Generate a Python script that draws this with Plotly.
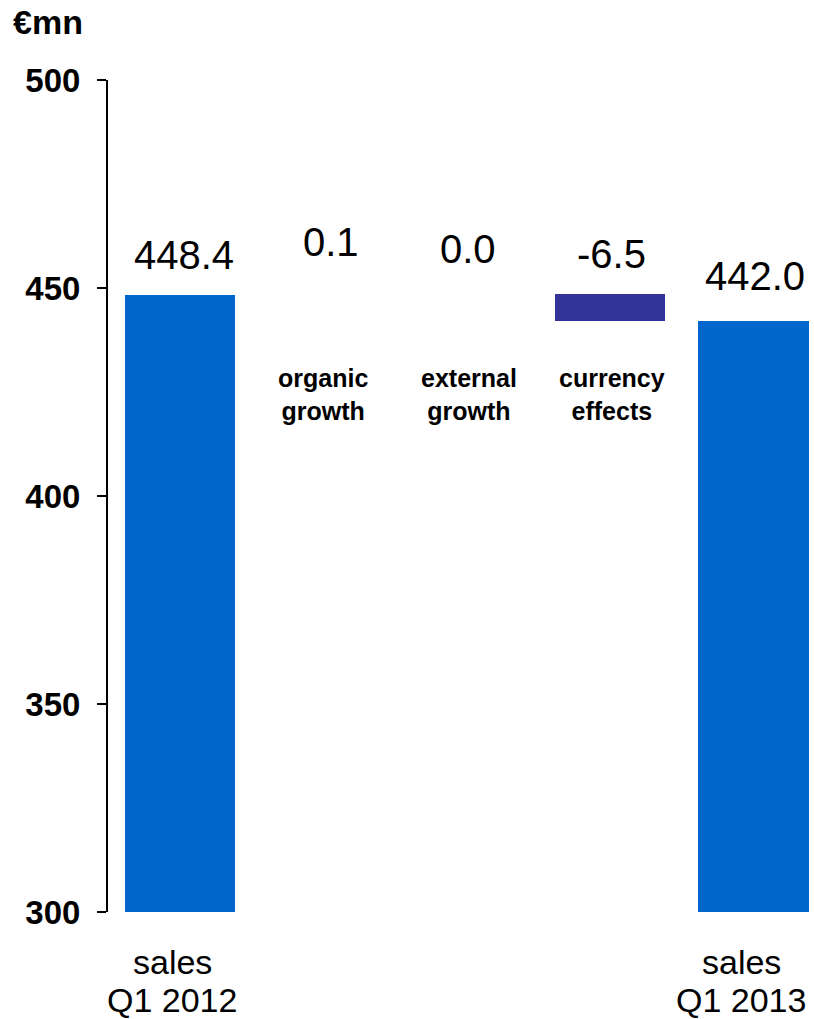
import plotly.graph_objects as go

categories = ["sales Q1 2012", "organic growth", "external growth", "currency effects", "sales Q1 2013"]
values = [448.4, 0.1, 0.0, -6.5, 442.0]
measures = ["absolute", "relative", "relative", "relative", "total"]
value_labels = ["448.4", "0.1", "0.0", "-6.5", "442.0"]
tick_vals = [300, 350, 400, 450, 500]

# compute bar bases / heights from the data
bases, heights, tops = [], [], []
running = 0.0
for v, m in zip(values, measures):
    if m == "relative":
        start = running
        running = running + v
        bases.append(min(start, running))
        heights.append(abs(v))
        tops.append(max(start, running))
    else:
        running = v
        bases.append(0)
        heights.append(v)
        tops.append(v)

colors = []
for v, m in zip(values, measures):
    if m == "relative":
        # tiny increases are not visible in the original
        colors.append("#333399" if v < 0 else "rgba(0,102,204,0)")
    else:
        colors.append("#0066CC")

x = list(range(len(categories)))
FONT = "Liberation Sans, Arial, sans-serif"

fig = go.Figure()
fig.add_trace(go.Bar(x=x, y=heights, base=bases, marker_color=colors,
                     marker_line_width=0, width=0.77, hoverinfo="skip"))

label_yshift = [39.5, 52, 45.5, 40.5, 45]
label_xshift = [4, 8, 1, 1, 1]
annotations = []
for i, (t, lab) in enumerate(zip(tops, value_labels)):
    annotations.append(dict(x=i, y=t, xref="x", yref="y", text=lab, showarrow=False,
                            yanchor="middle", yshift=label_yshift[i], xshift=label_xshift[i],
                            font=dict(family=FONT, size=40, color="black")))

cat_xshift = [-7.5, 0, 2, 2, -12.5]
for i, c in enumerate(categories):
    if measures[i] == "relative":
        annotations.append(dict(x=i, y=424.3, xref="x", yref="y",
                                text="<b>" + c.replace(" ", "<br>") + "</b>",
                                showarrow=False, yanchor="middle", xshift=cat_xshift[i],
                                font=dict(family=FONT, size=25, color="black")))
    else:
        first, second = c.split(" ", 1)
        for line, ys in ((first, -50), (second, -88)):
            annotations.append(dict(x=i, y=0, xref="x", yref="paper", text=line,
                                    showarrow=False, yanchor="middle", yshift=ys,
                                    xshift=cat_xshift[i],
                                    font=dict(family=FONT, size=34, color="black")))

annotations.append(dict(x=0, y=1, xref="paper", yref="paper", xanchor="left", yanchor="middle",
                        text="<b>€mn</b>", showarrow=False, xshift=-97, yshift=58,
                        font=dict(family=FONT, size=34, color="black")))

fig.update_layout(
    width=814, height=1019,
    margin=dict(l=108, r=0, t=80, b=107),
    plot_bgcolor="white", paper_bgcolor="white",
    showlegend=False,
    bargap=0,
    annotations=annotations,
    xaxis=dict(range=[-0.5, 4.42], showticklabels=False,
               showline=False, showgrid=False, zeroline=False, ticks=""),
    yaxis=dict(range=[300, 500], tickvals=tick_vals, showgrid=False, zeroline=False,
               showline=True, linecolor="black", linewidth=2,
               ticks="outside", ticklen=9, tickwidth=2, tickcolor="black",
               ticklabelstandoff=10,
               tickfont=dict(family=FONT, size=33, color="black", weight="bold")),
)

fig.write_html("out.html")
